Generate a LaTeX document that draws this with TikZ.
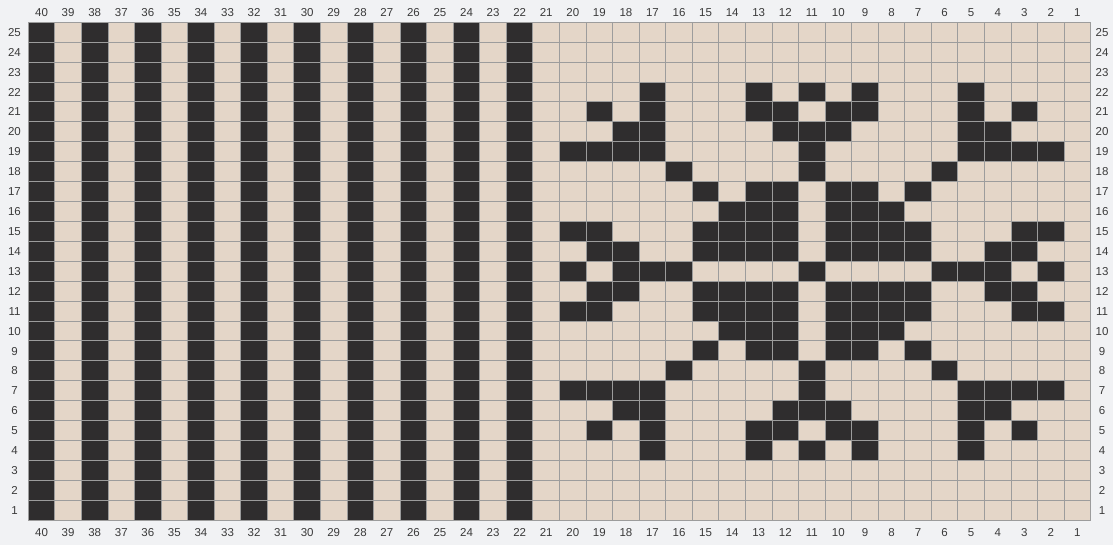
\documentclass[tikz,border=0pt]{standalone}
\usepackage{fontspec}
\setmainfont{Liberation Sans}
\definecolor{bg}{HTML}{F1F2F4}
\definecolor{beige}{HTML}{E4D6C8}
\definecolor{ink}{HTML}{2F2D2E}
\definecolor{gridc}{HTML}{9C9C9C}
\definecolor{lab}{HTML}{3A3A3A}
\newcommand\gx{28.3}
\newcommand\gy{22.2}
\newcommand\cw{26.56}
\newcommand\ch{19.92}
\newcommand\kcell[2]{\fill[ink] ({\gx+(40-#1)*\cw},{\gy+(25-#2)*\ch}) rectangle ++(\cw,\ch);}
\begin{document}
\begin{tikzpicture}[x=1pt,y=-1pt,
  lbl/.style={font=\fontsize{11.5}{13}\selectfont, text=lab, inner sep=0pt,
    text height=8.3pt, text depth=0pt, anchor=center},
  gridline/.style={draw=gridc, line width=0.9pt}]
\useasboundingbox (0,0) rectangle (1113,545);
\fill[bg] (0,0) rectangle (1113,545);
\fill[beige] (\gx,\gy) rectangle ++({40*\cw},{25*\ch});
% vertical stripes
\foreach \c in {22,24,...,40} {
  \fill[ink] ({\gx+(40-\c)*\cw},\gy) rectangle ++(\cw,{25*\ch});
}
% motif
\foreach \r/\cols in {
  22/{17,13,11,9,5},
  21/{19,17,13,12,10,9,5,3},
  20/{18,17,12,11,10,5,4},
  19/{20,19,18,17,11,5,4,3,2},
  18/{16,11,6},
  17/{15,13,12,10,9,7},
  16/{14,13,12,10,9,8},
  15/{20,19,15,14,13,12,10,9,8,7,3,2},
  14/{19,18,15,14,13,12,10,9,8,7,4,3},
  13/{20,18,17,16,11,6,5,4,2},
  12/{19,18,15,14,13,12,10,9,8,7,4,3},
  11/{20,19,15,14,13,12,10,9,8,7,3,2},
  10/{14,13,12,10,9,8},
  9/{15,13,12,10,9,7},
  8/{16,11,6},
  7/{20,19,18,17,11,5,4,3,2},
  6/{18,17,12,11,10,5,4},
  5/{19,17,13,12,10,9,5,3},
  4/{17,13,11,9,5}} {
  \foreach \c in \cols { \kcell{\c}{\r} }
}
% grid
\foreach \i in {0,...,40} {
  \draw[gridline] ({\gx+\i*\cw},\gy) -- ++(0,{25*\ch});
}
\foreach \j in {0,...,25} {
  \draw[gridline] (\gx,{\gy+\j*\ch}) -- ++({40*\cw},0);
}
% labels
\foreach \c in {1,...,40} {
  \node[lbl] (top\c) at ({\gx+(40-\c+0.5)*\cw},12.5) {\c};
  \node[lbl] (bot\c) at ({\gx+(40-\c+0.5)*\cw},532) {\c};
}
\foreach \r in {1,...,25} {
  \node[lbl] (left\r) at (14.5,{\gy+(25-\r+0.5)*\ch}) {\r};
  \node[lbl] (right\r) at (1102,{\gy+(25-\r+0.5)*\ch}) {\r};
}
\end{tikzpicture}
\end{document}
